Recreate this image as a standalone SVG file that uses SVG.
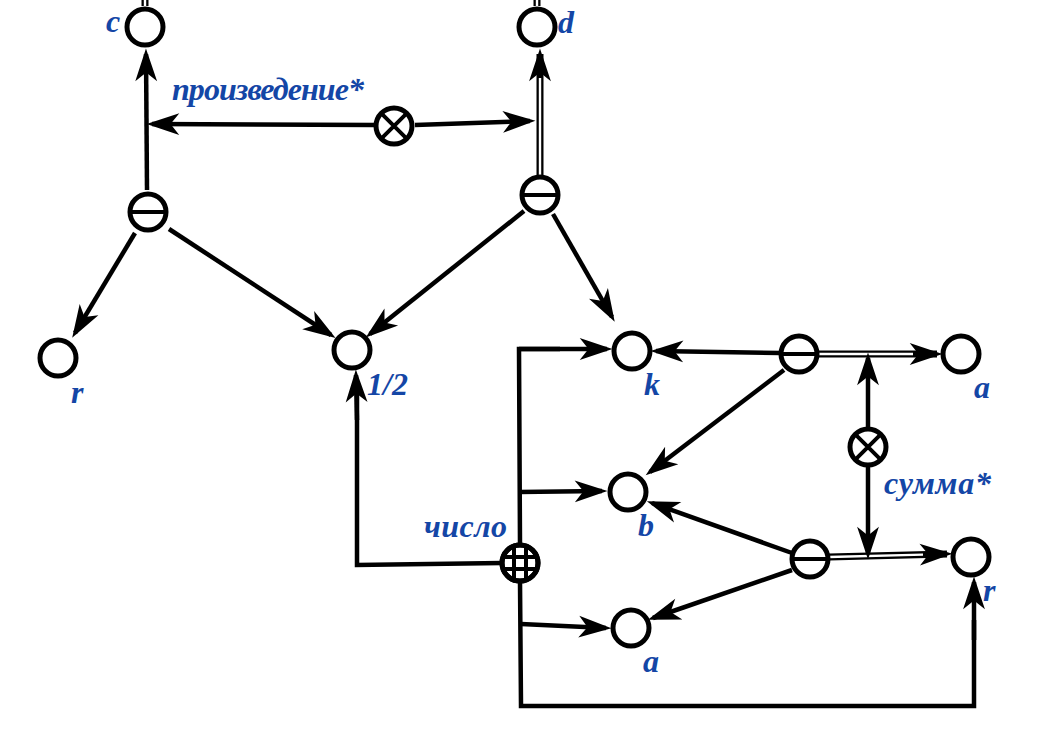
<svg xmlns="http://www.w3.org/2000/svg" width="1061" height="734" viewBox="0 0 1061 734">
  <style>
    .n { fill: #fff; stroke: #000; stroke-width: 5; }
    .g { stroke: #000; stroke-width: 4; fill: none; }
    .e { stroke: #000; stroke-width: 4.5; fill: none; stroke-linejoin: miter; }
    .ea { stroke: #000; stroke-width: 4.5; fill: none; marker-end: url(#arr); }
    .dbl { stroke: #000; stroke-width: 7; fill: none; }
    .dbla { stroke: #000; stroke-width: 7; fill: none; marker-end: url(#arr); }
    .gap { stroke: #fff; stroke-width: 2.4; fill: none; }
    .t { font-family: "Liberation Serif", "Times New Roman", serif; font-weight: bold; font-style: italic; font-size: 32px; fill: #1446a6; }
  </style>
  <defs>
    <marker id="arr" markerUnits="userSpaceOnUse" orient="auto" markerWidth="34" markerHeight="24" viewBox="0 -11 30 22" refX="25" refY="0">
      <path d="M0,-10 L30,0 L0,10 L8,0 z" fill="#000"/>
    </marker>
  </defs>

  <rect width="1061" height="734" fill="#fff"/>

  <!-- connectors -->
  <g id="edges">
    <!-- stubs leaving the top edge -->
    <path class="dbl" d="M145,-4 V6"/><path class="gap" d="M145,-4 V6"/>
    <path class="dbl" d="M537,-4 V6"/><path class="gap" d="M537,-4 V6"/>

    <!-- left minus -->
    <path class="ea" d="M147,190 L146,54"/>
    <path class="ea" d="M135,233 L75,333"/>
    <path class="ea" d="M169,229 L331,335"/>

    <!-- product -->
    <path class="ea" d="M375,125 L152,124"/>
    <path class="ea" d="M415,125 L530,121"/>

    <!-- right-top minus -->
    <path class="dbla" d="M540,176 L540,54"/>
    <path class="gap" d="M540,176 L540,78"/>
    <path class="ea" d="M524,211 L370,334"/>
    <path class="ea" d="M553,214 L612,317"/>

    <!-- minus near k -->
    <path class="ea" d="M780,353 L656,351"/>
    <path class="dbla" d="M818,354 L937,354"/>
    <path class="gap" d="M818,354 L913,354"/>
    <path class="ea" d="M784,370 L650,472"/>

    <!-- minus near r -->
    <path class="ea" d="M792,553 L652,503"/>
    <path class="ea" d="M792,570 L653,618"/>
    <path class="dbla" d="M829,557 L947,554"/>
    <path class="gap" d="M829,557 L923,554.6"/>

    <!-- sum -->
    <path class="ea" d="M868,427 L868,358"/>
    <path class="ea" d="M868,467 L868,554"/>

    <!-- number -->
    <path class="e" d="M520,545 L519,349 L560,349"/>
    <path class="ea" d="M519,349 L607,349"/>
    <path class="ea" d="M519,492 L602,491"/>
    <path class="e" d="M502,563 L357,565 L357,390"/>
    <path class="ea" d="M357,420 L356,375"/>
    <path class="e" d="M520,582 L521,706 L974,706 L974,620"/>
    <path class="ea" d="M974,640 L974,582"/>
    <path class="ea" d="M521,624 L606,628"/>
  </g>

  <!-- plain nodes -->
  <g id="node-c"><circle class="n" cx="145" cy="27" r="18"/><text class="t" x="106" y="32">c</text></g>
  <g id="node-d"><circle class="n" cx="537" cy="27" r="18"/><text class="t" x="558" y="33">d</text></g>
  <g id="node-r1"><circle class="n" cx="58" cy="358" r="18"/><text class="t" x="71" y="403">r</text></g>
  <g id="node-half"><circle class="n" cx="352" cy="350" r="18"/><text class="t" x="367" y="395">1/2</text></g>
  <g id="node-k"><circle class="n" cx="632" cy="351" r="18"/><text class="t" x="644" y="395">k</text></g>
  <g id="node-a1"><circle class="n" cx="961" cy="354" r="18"/><text class="t" x="974" y="398">a</text></g>
  <g id="node-b"><circle class="n" cx="628" cy="492" r="18"/><text class="t" x="638" y="536">b</text></g>
  <g id="node-r2"><circle class="n" cx="971" cy="557" r="18"/><text class="t" x="983" y="601">r</text></g>
  <g id="node-a2"><circle class="n" cx="631" cy="628" r="18"/><text class="t" x="643" y="672">a</text></g>

  <!-- minus nodes -->
  <g id="minus-1"><circle class="n" cx="148" cy="212" r="18"/><path class="g" d="M130,212 H166"/></g>
  <g id="minus-2"><circle class="n" cx="540" cy="195" r="18"/><path class="g" d="M522,195 H558"/></g>
  <g id="minus-3"><circle class="n" cx="799" cy="354" r="18"/><path class="g" d="M781,354 H817"/></g>
  <g id="minus-4"><circle class="n" cx="810" cy="559" r="18"/><path class="g" d="M792,559 H828"/></g>

  <!-- cross nodes -->
  <g id="product">
    <circle class="n" cx="394" cy="126" r="18"/>
    <path class="g" d="M381.3,113.3 L406.7,138.7 M406.7,113.3 L381.3,138.7"/>
    <text class="t" x="172" y="100" textLength="192" lengthAdjust="spacing">произведение*</text>
  </g>
  <g id="sum">
    <circle class="n" cx="868" cy="447" r="18"/>
    <path class="g" d="M855.3,434.3 L880.7,459.7 M880.7,434.3 L855.3,459.7"/>
    <text class="t" x="884" y="494" textLength="107" lengthAdjust="spacing">сумма*</text>
  </g>

  <!-- grid node -->
  <g id="number">
    <circle class="n" cx="520" cy="563" r="18"/>
    <path class="g" stroke-width="3" d="M514,546 V580 M526,546 V580 M503,557 H537 M503,569 H537"/>
    <circle cx="520" cy="563" r="18" fill="none" stroke="#000" stroke-width="5"/>
    <text class="t" x="424" y="537" textLength="83" lengthAdjust="spacing">число</text>
  </g>
</svg>
